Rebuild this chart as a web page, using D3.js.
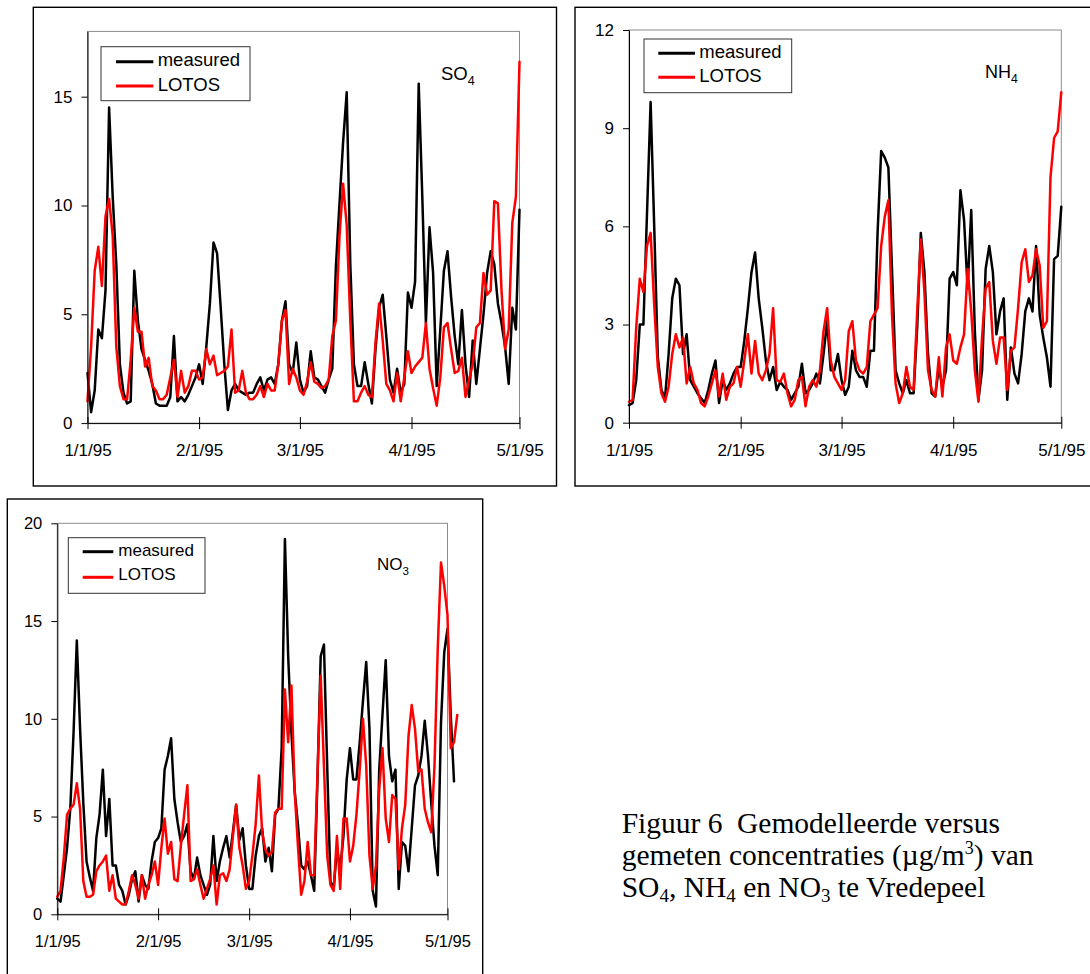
<!DOCTYPE html>
<html>
<head>
<meta charset="utf-8">
<script src="https://cdn.jsdelivr.net/npm/d3@7"></script>
<style>
body { margin: 0; background: #fff; }
svg { display: block; }
</style>
</head>
<body>
<div id="stage"></div>
<script>

// dates and tick labels
var startDay = "1995-01-01";
var tickDates = ["1995-01-01", "1995-02-01", "1995-03-01", "1995-04-01", "1995-05-01"];
var tickLabels = ["1/1/95", "2/1/95", "3/1/95", "4/1/95", "5/1/95"];
var seriesNames = ["measured", "LOTOS"];

// SO4, daily values from 1/1/95
var so4Ticks = [0, 5, 10, 15];
var so4Max = 18;
var so4Measured = [2.3, 0.5, 1.5, 4.3, 3.9, 6.1, 14.5, 10.4, 7.3, 2.7, 1.4, 0.9, 1.0, 7.0, 4.7, 3.4, 2.9, 2.4, 1.8, 0.9,
  0.8, 0.8, 0.8, 1.2, 4.0, 1.0, 1.2, 1.0, 1.3, 1.7, 2.1, 2.7, 1.8, 3.5, 5.5, 8.3, 7.8, 5.3, 2.7, 0.6,
  1.5, 1.8, 1.5, 1.4, 1.3, 1.4, 1.4, 1.8, 2.1, 1.5, 2.0, 2.1, 1.8, 2.7, 4.7, 5.6, 2.7, 2.3, 3.7, 2.0,
  1.4, 1.7, 3.3, 2.1, 2.0, 1.7, 1.4, 2.0, 2.5, 7.2, 10.1, 12.9, 15.2, 7.3, 2.7, 1.7, 1.7, 2.8, 1.8, 0.9,
  3.4, 5.3, 5.9, 4.0, 2.0, 1.4, 2.5, 1.4, 1.8, 6.0, 5.3, 6.5, 15.6, 10.4, 4.6, 9.0, 6.9, 1.7, 4.3, 7.0,
  7.9, 5.8, 4.0, 2.7, 5.2, 2.7, 1.2, 3.8, 1.8, 3.4, 5.0, 6.9, 7.9, 7.3, 5.5, 4.6, 3.5, 1.8, 5.3, 4.3, 9.8];
var so4Lotos = [1.0, 3.5, 7.0, 8.1, 6.3, 9.5, 10.3, 8.6, 3.5, 1.7, 1.1, 1.1, 2.9, 5.3, 4.2, 4.2, 2.6, 3.0, 1.7, 1.5,
  1.1, 1.1, 1.3, 2.1, 2.9, 1.2, 2.4, 1.4, 1.7, 2.4, 2.4, 2.0, 2.1, 3.4, 2.7, 3.1, 2.2, 2.3, 2.4, 2.6,
  4.3, 1.4, 1.5, 2.4, 1.4, 1.1, 1.1, 1.3, 1.7, 1.2, 1.8, 1.5, 1.5, 2.7, 4.7, 5.2, 1.8, 2.5, 2.1, 1.5,
  1.3, 1.9, 2.8, 1.9, 1.8, 1.6, 1.7, 2.0, 4.0, 4.7, 8.6, 11.0, 9.1, 4.7, 1.0, 1.0, 1.4, 1.7, 1.3, 1.2,
  3.7, 5.5, 3.8, 1.8, 1.5, 1.0, 2.3, 1.0, 2.1, 3.3, 2.3, 2.6, 2.8, 3.0, 4.6, 2.5, 1.6, 0.8, 2.1, 4.4,
  4.6, 3.4, 2.3, 2.4, 3.0, 1.2, 2.0, 2.7, 4.4, 4.6, 6.9, 5.9, 6.1, 10.2, 10.1, 6.1, 3.4, 4.3, 9.2, 10.4, 16.6];

// NH4
var nh4Ticks = [0, 3, 6, 9, 12];
var nh4Max = 12;
var nh4Measured = [0.54, 0.6, 1.3, 3.0, 3.0, 6.4, 9.8, 6.0, 2.0, 1.0, 0.75, 2.1, 3.8, 4.4, 4.2, 2.1, 2.7, 1.3, 1.1, 0.9,
  0.75, 0.6, 1.0, 1.5, 1.9, 0.6, 1.3, 1.0, 1.2, 1.5, 1.7, 1.7, 2.5, 3.5, 4.6, 5.2, 3.8, 2.9, 1.9, 1.3,
  1.7, 1.0, 1.25, 1.1, 1.0, 0.7, 0.9, 1.1, 1.8, 0.9, 1.0, 1.2, 1.5, 1.2, 2.1, 3.1, 1.6, 1.6, 2.1, 1.3,
  0.85, 1.1, 2.2, 1.6, 1.4, 1.4, 1.1, 2.2, 2.2, 5.8, 8.3, 8.1, 7.8, 4.7, 1.6, 1.2, 0.9, 1.3, 0.9, 0.9,
  2.9, 5.8, 4.6, 2.1, 0.9, 0.8, 1.7, 1.1, 1.6, 4.4, 4.6, 4.2, 7.1, 6.2, 4.1, 6.5, 2.8, 0.7, 1.6, 4.7,
  5.4, 4.6, 2.7, 3.4, 3.8, 0.7, 2.3, 1.5, 1.2, 2.1, 3.4, 3.8, 3.4, 5.4, 3.3, 2.6, 2.0, 1.1, 5.0, 5.1, 6.6];
var nh4Lotos = [0.64, 0.7, 2.9, 4.4, 4.0, 5.4, 5.8, 3.6, 1.7, 0.9, 0.64, 1.1, 2.1, 2.7, 2.3, 2.6, 1.2, 1.7, 1.2, 1.0,
  0.6, 0.5, 0.8, 1.2, 1.6, 0.8, 1.5, 0.7, 1.1, 1.2, 1.7, 1.1, 1.9, 2.7, 1.5, 2.5, 1.5, 1.3, 1.6, 2.1,
  3.5, 1.3, 1.25, 1.5, 0.9, 0.5, 0.7, 1.3, 1.4, 0.5, 1.1, 1.3, 1.1, 1.6, 2.8, 3.5, 1.9, 1.4, 1.2, 1.0,
  1.3, 2.8, 3.1, 1.9, 1.6, 1.5, 1.7, 3.1, 3.3, 3.5, 5.4, 6.3, 6.8, 3.3, 1.2, 0.6, 0.9, 1.7, 1.1, 1.0,
  3.4, 5.6, 4.0, 1.6, 1.0, 0.8, 2.0, 0.8, 2.3, 2.7, 1.9, 1.8, 2.3, 2.7, 4.7, 3.4, 1.6, 0.64, 2.6, 4.1,
  4.3, 2.5, 1.8, 2.6, 2.6, 1.0, 2.2, 2.3, 3.5, 4.9, 5.3, 4.3, 4.5, 5.3, 4.8, 2.9, 3.1, 7.5, 8.7, 8.9, 10.1];

// NO3 (both series run a few days past 5/1/95)
var no3Ticks = [0, 5, 10, 15, 20];
var no3Max = 20;
var no3Measured = [0.8, 0.65, 2.0, 3.4, 5.4, 9.3, 14.0, 9.5, 5.7, 2.7, 1.9, 1.2, 3.9, 5.1, 7.4, 4.0, 5.9, 2.5, 2.5, 1.5,
  1.2, 0.5, 1.0, 1.8, 2.2, 0.65, 2.0, 1.5, 1.3, 2.7, 3.7, 3.9, 4.4, 7.4, 8.1, 9.0, 5.9, 4.7, 3.7, 4.0,
  4.6, 2.2, 1.8, 2.9, 2.0, 1.5, 1.0, 1.5, 4.0, 1.7, 2.7, 3.4, 4.0, 2.9, 4.2, 5.6, 3.8, 4.4, 2.5, 1.3,
  1.3, 3.0, 4.0, 4.4, 2.7, 3.4, 2.2, 5.1, 5.4, 8.5, 19.2, 13.2, 9.3, 6.3, 4.6, 2.5, 2.3, 2.7, 2.0, 1.2,
  6.8, 13.2, 13.8, 7.6, 1.7, 1.3, 3.4, 2.3, 4.0, 6.9, 8.5, 6.9, 6.9, 8.8, 10.9, 12.9, 9.5, 1.2, 0.4, 7.4,
  10.2, 13.0, 8.1, 6.8, 7.4, 1.3, 3.7, 3.5, 2.2, 4.4, 6.6, 7.1, 8.1, 9.9, 8.1, 5.7, 3.5, 2.0, 9.8, 13.4,
  14.6, 10.2, 6.8];
var no3Lotos = [0.9, 1.2, 2.9, 5.1, 5.4, 5.6, 6.7, 5.4, 1.7, 0.9, 0.9, 1.0, 2.2, 2.5, 2.7, 3.0, 1.2, 2.0, 0.8, 0.65,
  0.5, 0.5, 1.2, 2.0, 1.5, 0.8, 2.0, 0.8, 1.5, 2.0, 2.7, 1.5, 3.4, 4.9, 3.1, 3.7, 1.8, 1.7, 3.5, 5.1,
  6.6, 1.7, 1.8, 2.3, 1.5, 0.8, 1.3, 1.8, 2.5, 0.5, 2.0, 2.1, 1.7, 2.3, 4.0, 5.6, 3.4, 2.5, 1.3, 1.7,
  3.0, 4.6, 7.1, 4.2, 3.3, 3.0, 3.2, 5.2, 5.4, 5.4, 11.5, 8.8, 11.7, 6.3, 3.5, 1.0, 1.7, 3.7, 2.0, 2.0,
  7.1, 12.2, 7.6, 3.0, 1.5, 1.2, 4.0, 1.3, 4.9, 4.9, 2.7, 3.5, 5.1, 7.4, 10.0, 7.6, 3.0, 1.3, 2.5, 6.4,
  8.5, 4.9, 3.7, 6.1, 5.9, 2.3, 4.4, 5.6, 9.1, 10.7, 9.5, 7.3, 7.4, 5.4, 4.7, 4.2, 7.6, 13.6, 18.0, 16.8,
  15.3, 8.5, 8.8, 10.2];

var width = 1090;
var height = 974;

var svgContainer = d3.select("#stage")
                     .append("svg")
                     .attr("width", width)
                     .attr("height", height);

var sans = "'Liberation Sans', Arial, sans-serif";
var serif = "'Liberation Serif', 'Times New Roman', serif";
var seriesColors = ["#000000", "#ff0000"];

var start = new Date(startDay + "T00:00:00Z");
var ticks = tickDates.map(function(d) { return new Date(d + "T00:00:00Z"); });

function drawPanel(p) {
  var g = svgContainer.append("g");

  // outer frame of the chart object
  g.append("rect")
   .attr("x", p.frame[0]).attr("y", p.frame[1])
   .attr("width", p.frame[2] - p.frame[0]).attr("height", p.frame[3] - p.frame[1])
   .attr("fill", "none").attr("stroke", "#000").attr("stroke-width", 1.4);

  var x = d3.scaleUtc().domain([ticks[0], ticks[ticks.length - 1]]).range([p.left, p.right]);
  var y = d3.scaleLinear().domain([0, p.yMax]).range([p.bottom, p.top]);

  // plot area border (grey)
  g.append("rect")
   .attr("x", p.left).attr("y", p.top)
   .attr("width", p.right - p.left).attr("height", p.bottom - p.top)
   .attr("fill", "none").attr("stroke", "#8c8c8c").attr("stroke-width", 1);

  var line = d3.line()
               .x(function(d, i) { return x(d3.utcDay.offset(start, i)); })
               .y(function(d) { return y(d); });

  p.series.forEach(function(s, k) {
    g.append("path")
     .datum(s)
     .attr("d", line)
     .attr("fill", "none")
     .attr("stroke", seriesColors[k])
     .attr("stroke-width", 2.5)
     .attr("stroke-linejoin", "round")
     .attr("stroke-linecap", "round");
  });

  // x axis, ticks cross the axis line
  var xAxis = d3.axisBottom(x)
                .tickValues(ticks)
                .tickFormat(function(d, i) { return tickLabels[i]; })
                .tickSize(6)
                .tickSizeOuter(0);
  var gx = g.append("g").attr("transform", "translate(0," + p.bottom + ")").call(xAxis);
  gx.selectAll(".tick line").attr("y1", -6).attr("stroke", "#000");
  gx.select(".domain").attr("stroke", "#000");
  gx.selectAll(".tick text")
    .attr("y", 33).attr("dy", null)
    .attr("fill", "#000")
    .style("font-family", sans).style("font-size", p.tickFont + "px");

  var yAxis = d3.axisLeft(y)
                .tickValues(p.yTicks)
                .tickSize(6)
                .tickSizeOuter(0)
                .tickPadding(9);
  var gy = g.append("g").attr("transform", "translate(" + p.left + ",0)").call(yAxis);
  gy.select(".domain").attr("stroke", "#000");
  gy.selectAll(".tick line").attr("stroke", "#000");
  gy.selectAll(".tick text")
    .attr("fill", "#000")
    .style("font-family", sans).style("font-size", p.tickFont + "px");

  // legend
  var lg = p.legend;
  g.append("rect")
   .attr("x", lg.box[0]).attr("y", lg.box[1])
   .attr("width", lg.box[2] - lg.box[0]).attr("height", lg.box[3] - lg.box[1])
   .attr("fill", "#fff").attr("stroke", "#333").attr("stroke-width", 1);
  seriesNames.forEach(function(name, k) {
    var ly = lg.box[1] + lg.lineOffsets[k];
    g.append("line")
     .attr("x1", lg.lineX[0]).attr("x2", lg.lineX[1])
     .attr("y1", ly).attr("y2", ly)
     .attr("stroke", seriesColors[k]).attr("stroke-width", 3);
    g.append("text")
     .attr("x", lg.textX)
     .attr("y", lg.box[1] + lg.textOffsets[k])
     .style("font-family", sans).style("font-size", lg.font + "px")
     .text(name);
  });

  // species label with subscript
  var t = g.append("text")
           .attr("x", p.label.x).attr("y", p.label.y)
           .style("font-family", sans).style("font-size", p.label.font + "px");
  t.append("tspan").text(p.label.main);
  t.append("tspan").attr("dy", 5).style("font-size", (p.label.font * 0.68) + "px").text(p.label.sub);
}

drawPanel({
  frame: [33.3, 7.3, 556.5, 486],
  left: 87.5, right: 519.5, top: 31.4, bottom: 423.1,
  yTicks: so4Ticks, yMax: so4Max,
  series: [so4Measured, so4Lotos],
  tickFont: 17,
  legend: { box: [101, 46.7, 250, 100.7], lineX: [116, 153.3], textX: 157.7,
            lineOffsets: [15, 39.3], textOffsets: [19.5, 44], font: 18.5 },
  label: { x: 441, y: 80, main: "SO", sub: "4", font: 18.5 }
});

drawPanel({
  frame: [575, 7.3, 1096, 486],
  left: 629, right: 1061.3, top: 30, bottom: 422.7,
  yTicks: nh4Ticks, yMax: nh4Max,
  series: [nh4Measured, nh4Lotos],
  tickFont: 17,
  legend: { box: [644, 39, 791.7, 92.7], lineX: [658.3, 695], textX: 699.3,
            lineOffsets: [14.3, 38.3], textOffsets: [18.5, 42.7], font: 18.5 },
  label: { x: 985, y: 78.3, main: "NH", sub: "4", font: 18 }
});

drawPanel({
  frame: [7.3, 499, 482.7, 980],
  left: 57.3, right: 447.5, top: 523.3, bottom: 914.3,
  yTicks: no3Ticks, yMax: no3Max,
  series: [no3Measured, no3Lotos],
  tickFont: 16.5,
  legend: { box: [68.3, 537.7, 205, 593.3], lineX: [82.7, 113.3], textX: 118.3,
            lineOffsets: [14, 39.6], textOffsets: [18.3, 42.3], font: 17 },
  label: { x: 377, y: 570, main: "NO", sub: "3", font: 17 }
});

// caption
var cap = svgContainer.append("g")
                      .style("font-family", serif)
                      .style("font-size", "29.5px")
                      .attr("fill", "#000");
cap.append("text").attr("x", 621.7).attr("y", 833).text("Figuur 6");
cap.append("text").attr("x", 737).attr("y", 833).text("Gemodelleerde versus");
var l2 = cap.append("text").attr("x", 621.7).attr("y", 865);
l2.append("tspan").text("gemeten concentraties (\u00b5g/m");
l2.append("tspan").attr("dy", -11).style("font-size", "18px").text("3");
l2.append("tspan").attr("dy", 11).text(") van");
var l3 = cap.append("text").attr("x", 621.7).attr("y", 897);
l3.append("tspan").text("SO");
l3.append("tspan").attr("dy", 5).style("font-size", "19px").text("4");
l3.append("tspan").attr("dy", -5).text(", NH");
l3.append("tspan").attr("dy", 5).style("font-size", "19px").text("4");
l3.append("tspan").attr("dy", -5).text(" en NO");
l3.append("tspan").attr("dy", 5).style("font-size", "19px").text("3");
l3.append("tspan").attr("dy", -5).text(" te Vredepeel");

</script>
</body>
</html>
